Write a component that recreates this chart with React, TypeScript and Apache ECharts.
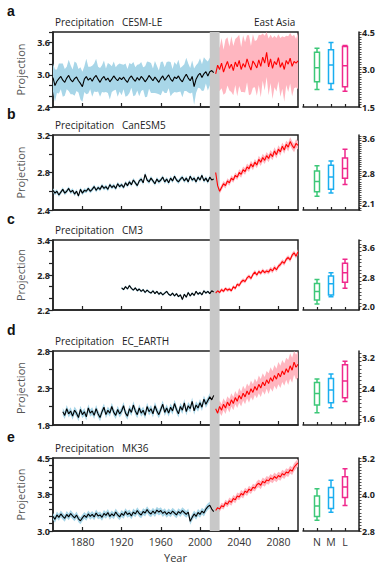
import React, { useEffect, useRef } from 'react';
import * as echarts from 'echarts';

const FONT = 'Open Sans';
const panelLetters = ['a', 'b', 'c', 'd', 'e'];
const modelNames = ['CESM-LE', 'CanESM5', 'CM3', 'EC_EARTH', 'MK36'];
const regionName = 'East Asia';
const varName = 'Precipitation';
const histStart = [1850, 1850, 1920, 1860, 1850];
const futStart = 2016;
const yearStep = 2;

// Historical ensemble mean (every 2 years)
const histA = [
  2.95, 2.80, 2.88, 2.93, 2.97,
  2.90, 2.86, 2.94, 2.99, 2.91,
  2.87, 2.93, 2.96, 2.89, 2.84,
  2.78, 2.92, 2.97, 2.90, 2.94,
  2.88, 2.95, 2.99, 2.92, 2.86,
  2.93, 2.97, 2.90, 2.94, 2.87,
  2.92, 2.98, 2.93, 2.89, 2.95,
  2.91, 2.96, 2.90, 2.86, 2.94,
  2.98, 2.92, 2.88, 2.95, 2.90,
  2.97, 2.93, 2.87, 2.92, 2.99,
  2.94, 2.89, 2.96, 2.91, 2.86,
  2.93, 2.98, 2.90, 2.95, 3.00,
  2.92, 2.88, 2.96, 2.93, 2.98,
  2.91, 2.87, 2.95, 3.01, 2.94,
  2.89, 2.97, 2.78, 2.92, 2.99,
  3.03, 2.95, 3.02, 3.06, 2.98,
  3.06, 3.08, 3.04,
];
const histB = [
  2.61, 2.58, 2.60, 2.56, 2.59,
  2.62, 2.58, 2.60, 2.63, 2.59,
  2.61, 2.57, 2.60, 2.55, 2.62,
  2.58, 2.61, 2.60, 2.63, 2.60,
  2.62, 2.65, 2.61, 2.64, 2.62,
  2.66, 2.63, 2.65, 2.62, 2.67,
  2.64, 2.66, 2.63, 2.68, 2.65,
  2.67, 2.64, 2.69, 2.66, 2.70,
  2.67, 2.72, 2.69, 2.66, 2.71,
  2.73, 2.69, 2.78, 2.72, 2.70,
  2.74, 2.71, 2.68, 2.73, 2.70,
  2.72, 2.75, 2.70, 2.73, 2.69,
  2.74, 2.71, 2.76, 2.72, 2.70,
  2.73, 2.75, 2.71, 2.74, 2.70,
  2.76, 2.72, 2.74, 2.70, 2.75,
  2.72, 2.77, 2.71, 2.74, 2.70,
  2.75, 2.72, 2.73,
];
const histC = [
  2.58, 2.55, 2.60, 2.56, 2.62,
  2.57, 2.54, 2.58, 2.53, 2.56,
  2.52, 2.55, 2.50, 2.54, 2.51,
  2.49, 2.53, 2.48, 2.52, 2.47,
  2.50, 2.46, 2.49, 2.52, 2.47,
  2.45, 2.49, 2.44, 2.48, 2.43,
  2.46, 2.38, 2.47, 2.42, 2.50,
  2.44, 2.49, 2.45, 2.52, 2.47,
  2.50, 2.46, 2.53, 2.49, 2.52,
  2.48, 2.53, 2.51,
];
const histD = [
  1.98, 1.93, 2.02, 1.95, 1.99,
  1.92, 2.00, 1.96, 1.90, 2.01,
  1.94, 1.98, 1.91, 2.03, 1.96,
  1.99, 1.93, 2.02, 1.95, 1.90,
  1.98, 2.04, 1.94, 2.00, 1.96,
  2.05, 1.97, 1.93, 2.01, 1.95,
  1.99, 2.06, 1.96, 1.92, 2.02,
  1.97, 2.07, 1.99, 1.94, 2.03,
  1.96, 2.00, 1.93, 2.05, 1.98,
  2.02, 1.95, 2.06, 1.99, 1.94,
  2.01, 2.08, 1.97, 2.03, 1.96,
  2.04, 1.99, 2.09, 2.01, 1.95,
  2.05, 2.00, 2.10, 1.98, 2.06,
  2.02, 2.12, 1.99, 2.07, 2.03,
  2.10, 2.04, 2.15, 2.08, 2.13,
  2.18, 2.14, 2.20,
];
const histE = [
  3.30, 3.24, 3.33, 3.28, 3.35,
  3.30, 3.26, 3.34, 3.29, 3.36,
  3.31, 3.27, 3.33, 3.25, 3.21,
  3.27, 3.32, 3.28, 3.35, 3.30,
  3.34, 3.29, 3.37, 3.31, 3.33,
  3.28, 3.36, 3.32, 3.38, 3.30,
  3.35, 3.31, 3.39, 3.33, 3.29,
  3.36, 3.32, 3.40, 3.34, 3.37,
  3.31, 3.39, 3.35, 3.42, 3.36,
  3.33, 3.40, 3.37, 3.44, 3.38,
  3.35, 3.41, 3.36, 3.43, 3.39,
  3.42, 3.36, 3.40, 3.34, 3.39,
  3.35, 3.41, 3.37, 3.33, 3.40,
  3.36, 3.42, 3.38, 3.34, 3.39,
  3.20, 3.28, 3.35, 3.30, 3.38,
  3.34, 3.41, 3.37, 3.45, 3.50,
  3.53, 3.45, 3.40,
];

// Future projection (2016..2100, every 2 years)
const futA = [
  3.02, 3.18,
  3.10, 3.22, 3.05, 3.16, 3.25,
  3.12, 3.20, 3.08, 3.24, 3.15,
  3.27, 3.10, 3.21, 3.14, 3.30,
  3.18, 3.09, 3.26, 3.20, 3.13,
  3.28, 3.16, 3.33, 3.22, 3.42,
  3.15, 3.30, 3.12, 3.25, 3.19,
  3.32, 3.14, 3.23, 3.10, 3.27,
  3.20, 3.31, 3.16, 3.25, 3.22,
  3.26,
];
const futB = [
  2.80, 2.66,
  2.60, 2.64, 2.68, 2.66, 2.71,
  2.69, 2.74, 2.72, 2.77, 2.75,
  2.80, 2.78, 2.83, 2.81, 2.86,
  2.84, 2.89, 2.86, 2.91, 2.88,
  2.94, 2.91, 2.96, 2.93, 2.98,
  2.95, 3.00, 2.97, 3.03, 2.99,
  3.05, 3.02, 3.08, 3.04, 3.10,
  3.07, 3.13, 3.09, 3.06, 3.11,
  3.09,
];
const futC = [
  2.49, 2.53,
  2.50, 2.55, 2.52, 2.57, 2.54,
  2.56, 2.53, 2.60, 2.57, 2.64,
  2.62, 2.68, 2.71, 2.69, 2.75,
  2.78, 2.74, 2.81, 2.85, 2.80,
  2.86, 2.83, 2.88, 2.84, 2.87,
  2.85, 2.90, 2.87, 2.93, 2.89,
  2.95, 2.98, 3.03, 3.00, 3.07,
  3.10, 3.06, 3.14, 3.18, 3.12,
  3.20,
];
const futD = [
  2.02, 1.96,
  2.05, 2.00, 2.08, 2.03, 2.11,
  2.06, 2.14, 2.09, 2.17, 2.12,
  2.20, 2.15, 2.23, 2.18, 2.26,
  2.21, 2.29, 2.24, 2.32, 2.27,
  2.35, 2.30, 2.38, 2.33, 2.41,
  2.36, 2.44, 2.39, 2.47, 2.42,
  2.50, 2.45, 2.53, 2.48, 2.56,
  2.51, 2.60, 2.54, 2.65, 2.58,
  2.62,
];
const futE = [
  3.42, 3.48,
  3.45, 3.52, 3.50, 3.58, 3.55,
  3.62, 3.59, 3.67, 3.64, 3.72,
  3.70, 3.77, 3.74, 3.82, 3.79,
  3.86, 3.83, 3.90, 3.88, 3.95,
  3.98, 3.94, 4.02, 3.99, 4.05,
  4.03, 4.09, 4.06, 4.12, 4.08,
  4.14, 4.11, 4.18, 4.15, 4.21,
  4.19, 4.26, 4.23, 4.31, 4.36,
  4.40,
];
const histSeries = [histA, histB, histC, histD, histE];
const futSeries = [futA, futB, futC, futD, futE];

// ensemble spread (half width) for panel a, every 2 years
const histSpreadA = [
  0.26, 0.30, 0.22, 0.28, 0.24,
  0.31, 0.25, 0.21, 0.29, 0.27,
  0.23, 0.32, 0.26, 0.22, 0.30,
  0.28, 0.24, 0.33, 0.25, 0.21,
  0.29, 0.26, 0.31, 0.23, 0.27,
  0.25, 0.30, 0.22, 0.28, 0.33,
  0.24, 0.27, 0.21, 0.30, 0.26,
  0.29, 0.23, 0.31, 0.25, 0.28,
  0.22, 0.32, 0.26, 0.24, 0.30,
  0.27, 0.21, 0.29, 0.33, 0.25,
  0.28, 0.23, 0.30, 0.26, 0.22,
  0.31, 0.27, 0.24, 0.29, 0.25,
  0.32, 0.23, 0.28, 0.26, 0.30,
  0.22, 0.29, 0.25, 0.31, 0.27,
  0.24, 0.30, 0.34, 0.26, 0.23,
  0.28, 0.25, 0.31, 0.22, 0.27,
  0.26, 0.24, 0.28,
];
const futSpreadA = [
  0.38, 0.44,
  0.40, 0.47, 0.42, 0.50, 0.45,
  0.41, 0.52, 0.46, 0.43, 0.55,
  0.48, 0.42, 0.53, 0.47, 0.44,
  0.56, 0.45, 0.50, 0.43, 0.52,
  0.47, 0.58, 0.44, 0.51, 0.46,
  0.53, 0.45, 0.57, 0.48, 0.50,
  0.44, 0.55, 0.49, 0.60, 0.46,
  0.52, 0.47, 0.56, 0.50, 0.45,
  0.53,
];
// other panels: historical half width, and future half width per decade 2010..2100
const histSpread = [0, 0.022, 0.02, 0.05, 0.07];
const futSpread = [
  [],
  [0.03, 0.03, 0.03, 0.035, 0.035, 0.04, 0.04, 0.04, 0.045, 0.045],
  [0.03, 0.03, 0.03, 0.035, 0.035, 0.035, 0.04, 0.04, 0.04, 0.04],
  [0.07, 0.08, 0.09, 0.10, 0.11, 0.12, 0.14, 0.15, 0.17, 0.18],
  [0.06, 0.06, 0.07, 0.07, 0.07, 0.08, 0.08, 0.08, 0.08, 0.08],
];

const leftRange = [[2.4, 3.8], [2.4, 3.2], [2.2, 3.4], [1.8, 2.8], [3.0, 4.5]];
const leftLabels = [[2.4, 3.0, 3.6], [2.4, 2.8, 3.2], [2.2, 2.8, 3.4], [1.8, 2.3, 2.8], [3.0, 3.75, 4.5]];
const leftTickStep = [0.2, 0.2, 0.2, 0.25, 0.15];

const rightRange = [[1.5, 4.5], [1.95, 3.68], [1.91, 3.81], [1.44, 3.37], [2.8, 5.2]];
const rightLabels = [[1.5, 3.0, 4.5], [2.1, 2.8, 3.6], [2.0, 2.8, 3.6], [1.6, 2.4, 3.2], [2.8, 4.0, 5.2]];
const rightTickStep = [0.1, 0.05, 0.1, 0.1, 0.1];

const boxCats = ['', 'N', 'M', 'L', ''];
// [min, Q1, median, Q3, max] for N, M, L
const boxStats = [
  [[2.20, 2.51, 3.07, 3.69, 3.85], [2.20, 2.44, 3.18, 3.79, 4.08], [2.13, 2.31, 3.15, 3.92, 3.96]],
  [[2.27, 2.37, 2.61, 2.85, 2.97], [2.34, 2.43, 2.71, 2.98, 3.08], [2.54, 2.68, 2.91, 3.15, 3.35]],
  [[2.07, 2.18, 2.41, 2.63, 2.74], [2.27, 2.32, 2.62, 2.83, 2.92], [2.50, 2.66, 2.92, 3.18, 3.29]],
  [[1.76, 1.96, 2.26, 2.55, 2.64], [1.89, 2.02, 2.35, 2.65, 2.77], [2.05, 2.15, 2.59, 3.01, 3.10]],
  [[3.15, 3.28, 3.62, 3.95, 4.19], [3.42, 3.54, 3.90, 4.23, 4.47], [3.64, 3.90, 4.25, 4.58, 4.85]],
];
const boxColors = ['#3cc878', '#1aaef0', '#f0288c'];

const yearTicks = [1880, 1920, 1960, 2000, 2040, 2080];
const yearRange = [1850, 2100];
const grayBand = [2010, 2020];

const tops = [32, 135, 240, 351, 458];
const heights = [75, 75, 70, 74, 73];

const histLine = '#000000';
const futLine = '#ff0000';
const histBand = '#a8d6e8';
const futBand = '#ffb6c0';
const axisColor = '#222222';

function stepTicks(anchor: number, step: number, min: number, max: number) {
  const out: number[] = [];
  const n0 = Math.ceil((min - anchor) / step - 1e-6);
  const n1 = Math.floor((max - anchor) / step + 1e-6);
  for (let k = n0; k <= n1; k++) out.push(+(anchor + k * step).toFixed(4));
  return out;
}

export default function App() {
  const ref = useRef<HTMLDivElement>(null);
  useEffect(() => {
    document.body.style.margin = '0';
    const chart = echarts.init(ref.current!, null, { renderer: 'svg' });
    const grid: any[] = [];
    const xAxis: any[] = [];
    const yAxis: any[] = [];
    const series: any[] = [];
    const last = 4;

    for (let p = 0; p < 5; p++) {
      grid.push({ left: 53, width: 245, top: tops[p], height: heights[p], show: true, borderColor: axisColor, borderWidth: 1.5, backgroundColor: 'transparent' });
    }
    for (let p = 0; p < 5; p++) {
      grid.push({ left: 303, width: 56, top: tops[p], height: heights[p] });
    }
    for (let p = 0; p < 5; p++) {
      xAxis.push({
        type: 'value', gridIndex: p, min: yearRange[0], max: yearRange[1],
        splitLine: { show: false },
        axisLine: { lineStyle: { color: axisColor, width: 1.5 } },
        axisTick: { inside: true, length: 4, customValues: yearTicks, lineStyle: { color: axisColor, width: 1.2 } },
        axisLabel: { show: p === last, customValues: yearTicks, formatter: (v: number) => String(v), color: '#333', fontSize: 10.5, fontFamily: FONT, margin: 5 },
        name: p === last ? 'Year' : '', nameLocation: 'middle', nameGap: 21,
        nameTextStyle: { color: '#333', fontSize: 11, fontFamily: FONT },
      });
    }
    for (let p = 0; p < 5; p++) {
      xAxis.push({
        type: 'category', gridIndex: 5 + p, data: boxCats, boundaryGap: false,
        axisLine: { lineStyle: { color: axisColor, width: 1.5 } },
        axisTick: { inside: true, length: 3, lineStyle: { color: axisColor, width: 1.2 } },
        axisLabel: { show: p === last, interval: 0, color: '#333', fontSize: 10.5, fontFamily: FONT, margin: 5 },
        splitLine: { show: false },
      });
    }
    for (let p = 0; p < 5; p++) {
      const [lo, hi] = leftRange[p];
      yAxis.push({
        type: 'value', gridIndex: p, min: lo, max: hi,
        splitLine: { show: false },
        axisLine: { show: true, lineStyle: { color: axisColor, width: 1.5 } },
        axisTick: { show: true, length: 4, customValues: stepTicks(lo, leftTickStep[p], lo, hi), lineStyle: { color: axisColor, width: 1.2 } },
        axisLabel: { customValues: leftLabels[p], formatter: (v: number) => v.toFixed(1), color: '#222', fontSize: 9, fontWeight: 'bold', fontFamily: FONT, margin: 3 },
        name: 'Projection', nameLocation: 'middle', nameGap: 22, nameRotate: 90,
        nameTextStyle: { color: '#555', fontSize: 11, fontFamily: FONT },
      });
    }
    for (let p = 0; p < 5; p++) {
      const [lo, hi] = rightRange[p];
      yAxis.push({
        type: 'value', gridIndex: 5 + p, position: 'right', min: lo, max: hi,
        splitLine: { show: false },
        axisLine: { show: true, lineStyle: { color: axisColor, width: 1.5 } },
        axisTick: { show: true, length: 2.5, customValues: stepTicks(rightLabels[p][0], rightTickStep[p], lo, hi), lineStyle: { color: axisColor, width: 0.8 } },
        axisLabel: { customValues: rightLabels[p], formatter: (v: number) => v.toFixed(1), color: '#222', fontSize: 9, fontWeight: 'bold', fontFamily: FONT, margin: 3 },
      });
    }

    const bandSeries = (p: number, start: number, vals: number[], spreadAt: (y: number, i: number) => number, color: string) => {
      const [lo, hi] = leftRange[p];
      const clamp = (v: number) => Math.max(lo, Math.min(hi, v));
      const years = vals.map((_, i) => start + i * yearStep);
      return {
        type: 'custom', xAxisIndex: p, yAxisIndex: p, z: 1, silent: true,
        data: years.map((y, i) => [y, vals[i]]),
        encode: { x: 0, y: 1 },
        renderItem: (params: any, api: any) => {
          if (params.dataIndex !== 0) return null;
          const upper = years.map((y, i) => api.coord([y, clamp(vals[i] + spreadAt(y, i))]));
          const lower = years.map((y, i) => api.coord([y, clamp(vals[i] - spreadAt(y, i))])).reverse();
          return { type: 'polygon', shape: { points: upper.concat(lower) }, style: { fill: color } };
        },
      };
    };

    for (let p = 0; p < 5; p++) {
      const hs = histStart[p];
      const hv = histSeries[p];
      const fv = futSeries[p];
      const hSpread = p === 0 ? (_y: number, i: number) => histSpreadA[i] : () => histSpread[p];
      const fSpread = p === 0 ? (_y: number, i: number) => futSpreadA[i] : (y: number) => futSpread[p][Math.min(9, Math.floor((y - 2010) / 10))];
      series.push(bandSeries(p, hs, hv, hSpread, histBand));
      series.push(bandSeries(p, futStart, fv, fSpread, futBand));
      series.push({
        type: 'line', xAxisIndex: p, yAxisIndex: p, z: 3, showSymbol: false, symbol: 'none', silent: true,
        data: hv.map((v, i) => [hs + i * yearStep, v]),
        lineStyle: { color: histLine, width: 1.1 },
      });
      series.push({
        type: 'line', xAxisIndex: p, yAxisIndex: p, z: 3, showSymbol: false, symbol: 'none', silent: true,
        data: fv.map((v, i) => [futStart + i * yearStep, v]),
        lineStyle: { color: futLine, width: 1.1 },
      });
      series.push({
        type: 'boxplot', xAxisIndex: 5 + p, yAxisIndex: 5 + p, z: 3, silent: true,
        boxWidth: [5, 5],
        encode: { x: 0, y: [1, 2, 3, 4, 5] },
        data: boxStats[p].map((s, k) => ({
          value: [k + 1, ...s],
          itemStyle: { color: '#ffffff', borderColor: boxColors[k], borderWidth: 1.5 },
        })),
      });
    }

    chart.setOption({ animation: false, grid, xAxis, yAxis, series });

    const x1 = chart.convertToPixel({ xAxisIndex: 0 }, grayBand[0]) as number;
    const x2 = chart.convertToPixel({ xAxisIndex: 0 }, grayBand[1]) as number;
    const elements: any[] = [
      { type: 'rect', z: 2, silent: true, shape: { x: x1, y: tops[0], width: x2 - x1, height: tops[4] + heights[4] - tops[0] }, style: { fill: '#c8c8c8' } },
    ];
    for (let p = 0; p < 5; p++) {
      elements.push({ type: 'text', z: 10, x: 7, y: tops[p] - 21, style: { text: panelLetters[p], font: 'bold 14px "Liberation Sans", Arial, sans-serif', fill: '#111', textVerticalAlign: 'middle' } });
      elements.push({ type: 'text', z: 10, x: 55, y: tops[p] - 10, style: { text: varName, font: `10px "${FONT}"`, fill: '#222', textVerticalAlign: 'middle' } });
      elements.push({ type: 'text', z: 10, x: 122, y: tops[p] - 10, style: { text: modelNames[p], font: `10px "${FONT}"`, fill: '#222', textVerticalAlign: 'middle' } });
    }
    elements.push({ type: 'text', z: 10, x: 254, y: tops[0] - 10, style: { text: regionName, font: `10px "${FONT}"`, fill: '#222', textVerticalAlign: 'middle' } });
    chart.setOption({ graphic: elements });

    return () => chart.dispose();
  }, []);
  return <div ref={ref} style={{ position: 'absolute', left: 0, top: 0, width: 380, height: 564 }} />;
}
